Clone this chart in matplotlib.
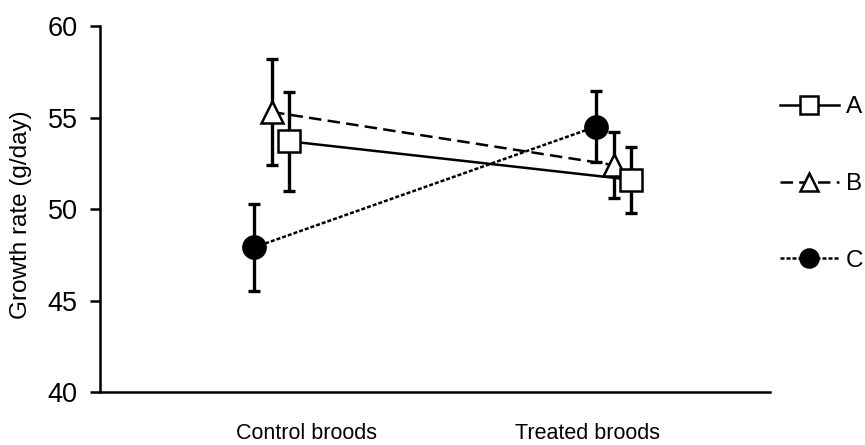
import numpy as np
import matplotlib.pyplot as plt

plt.rcParams['font.family'] = ['Liberation Sans', 'DejaVu Sans']

# Dados
grupos = ['Control broods', 'Treated broods']
series = ['A', 'B', 'C']
media_A = [53.7, 51.6]
erro_A = [2.7, 1.8]
media_B = [55.3, 52.4]
erro_B = [2.9, 1.8]
media_C = [47.9, 54.5]
erro_C = [2.4, 1.95]

medias = [media_A, media_B, media_C]
erros = [erro_A, erro_B, erro_C]
marcadores = ['s', '^', 'o']
cor_face = ['white', 'white', 'black']
estilos = ['-', (0, (5, 2.5)), (0, (1.6, 0.8))]
deslocamento = [0.05, 0.0, -0.053]
tamanho = [16, 16, 16]

fig = plt.figure(figsize=(8.65, 4.45), dpi=100)
ax = fig.add_axes([0.1156, 0.119, 0.7744, 0.8226])

x = np.array([1.0, 2.0])
for i in [2, 1, 0]:
    xs = x + deslocamento[i]
    ax.errorbar(xs, medias[i], yerr=erros[i], fmt='none', ecolor='black',
                elinewidth=2.4, capsize=4.5, capthick=2.4, zorder=2)
    ax.plot(xs, medias[i], linestyle=estilos[i], color='black', linewidth=1.8,
            zorder=3)
    ax.plot(xs, medias[i], linestyle='none', marker=marcadores[i],
            markersize=tamanho[i], markerfacecolor=cor_face[i],
            markeredgecolor='black', markeredgewidth=1.8, zorder=4)

# legenda
for i in range(3):
    ax.plot([], [], linestyle=estilos[i], color='black', linewidth=1.8,
            marker=marcadores[i], markersize=13, markerfacecolor=cor_face[i],
            markeredgecolor='black', markeredgewidth=1.8, label=series[i])
h, l = ax.get_legend_handles_labels()
fig.legend(h[-3:], l[-3:], loc='center left', bbox_to_anchor=(0.9015, 0.5865),
           frameon=False, fontsize=17.5, handlelength=2.43, handletextpad=0.3,
           labelspacing=2.25, borderpad=0, borderaxespad=0)

ax.set_ylim(40, 60)
ax.set_yticks([40, 45, 50, 55, 60])
ax.set_xlim(0.497, 2.456)
ax.set_xticks([1.10, 1.922])
ax.set_xticklabels(grupos, fontsize=15.5)
ax.tick_params(axis='x', length=0, pad=22)
ax.tick_params(axis='y', labelsize=19.5, length=7, width=1.8, pad=9)
ax.set_ylabel('Growth rate (g/day)', fontsize=17.5)
ax.yaxis.set_label_coords(-0.102, 0.484)
ax.spines['top'].set_visible(False)
ax.spines['right'].set_visible(False)
ax.spines['left'].set_linewidth(1.8)
ax.spines['bottom'].set_linewidth(1.8)

fig.savefig('out.png', dpi=100)
